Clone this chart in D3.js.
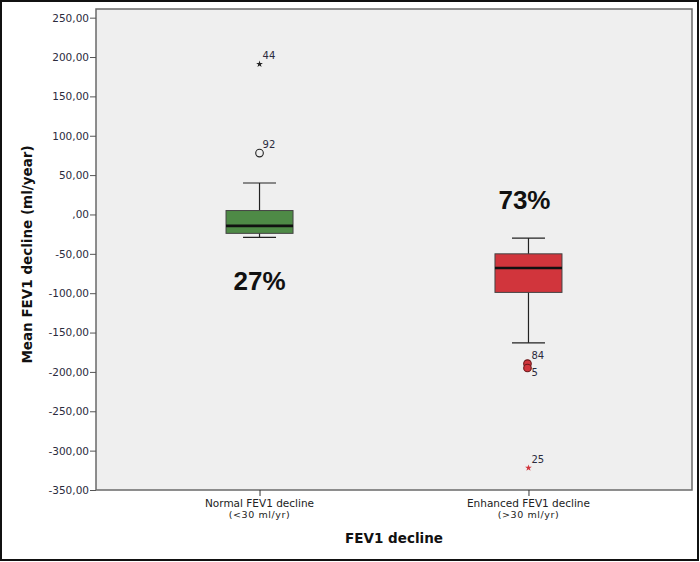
<!DOCTYPE html>
<html>
<head>
<meta charset="utf-8">
<script src="https://cdn.jsdelivr.net/npm/d3@7"></script>
<style>
  body { margin: 0; background: #fff; }
  svg { display: block; }
</style>
</head>
<body>
<script>
// chart data
var categories = ['Normal FEV1 decline', 'Enhanced FEV1 decline'];
var subLabels = ['(<30 ml/yr)', '(>30 ml/yr)'];
var whiskerLow = [-29, -163];
var q1 = [-24, -99];
var median = [-14.5, -68];
var q3 = [5, -50];
var whiskerHigh = [40, -30];
var boxColors = ['#4e8a46', '#d1353c'];
var percentLabels = ['27%', '73%'];

var outlierCat = [0, 0, 1, 1, 1];
var outlierValue = [78, 191, -189.5, -195, -322];
var outlierId = ['92', '44', '84', '5', '25'];
var outlierKind = ['circle', 'star', 'circle', 'circle', 'star'];

var yTicks = [250, 200, 150, 100, 50, 0, -50, -100, -150, -200, -250, -300, -350];

var width = 700, height = 562;
var plot = { left: 96, right: 692, top: 9, bottom: 490 };

var svg = d3.select('body').append('svg')
  .attr('width', width)
  .attr('height', height);

// outer frame
svg.append('rect')
  .attr('x', 1).attr('y', 1)
  .attr('width', width - 3).attr('height', height - 3)
  .attr('fill', '#fff')
  .attr('stroke', '#111')
  .attr('stroke-width', 2);

var y = d3.scaleLinear().domain([-350, 261]).range([plot.bottom, plot.top]);
var x = d3.scalePoint().domain(categories).range([plot.left, plot.right]).padding(0.608);

// plot background
svg.append('rect')
  .attr('x', plot.left).attr('y', plot.top)
  .attr('width', plot.right - plot.left).attr('height', plot.bottom - plot.top)
  .attr('fill', '#efefef')
  .attr('stroke', '#6a6a6a')
  .attr('stroke-width', 1.5);

// y axis
var fmt = function(d) {
  if (d === 0) return ',00';
  return d3.format('d')(d).replace('−', '-') + ',00';
};
var yAxis = svg.append('g')
  .attr('transform', 'translate(' + plot.left + ',0)')
  .call(d3.axisLeft(y).tickValues(yTicks).tickFormat(fmt).tickSize(6).tickPadding(1));
yAxis.select('.domain').remove();
yAxis.selectAll('line').attr('stroke', '#555');
yAxis.selectAll('text')
  .attr('font-family', 'DejaVu Sans, sans-serif')
  .attr('font-size', 10.5)
  .attr('fill', '#2b2b3d');

// x axis
var xAxis = svg.append('g')
  .attr('transform', 'translate(0,' + plot.bottom + ')')
  .call(d3.axisBottom(x).tickSize(6).tickFormat(''));
xAxis.select('.domain').remove();
xAxis.selectAll('line').attr('stroke', '#333');

categories.forEach(function(c, i) {
  svg.append('text')
    .attr('x', x(c)).attr('y', 507)
    .attr('text-anchor', 'middle')
    .attr('font-family', 'DejaVu Sans, sans-serif')
    .attr('font-size', 10.5)
    .attr('fill', '#222')
    .text(c);
  svg.append('text')
    .attr('x', x(c)).attr('y', 518)
    .attr('text-anchor', 'middle')
    .attr('font-family', 'DejaVu Sans, sans-serif')
    .attr('font-size', 9.5)
    .attr('letter-spacing', 0.6)
    .attr('fill', '#222')
    .text(subLabels[i]);
});

// axis titles
svg.append('text')
  .attr('x', (plot.left + plot.right) / 2).attr('y', 543)
  .attr('text-anchor', 'middle')
  .attr('font-family', 'DejaVu Sans, sans-serif')
  .attr('font-weight', 'bold')
  .attr('font-size', 13.5)
  .attr('fill', '#111')
  .text('FEV1 decline');

svg.append('text')
  .attr('transform', 'translate(32,' + ((plot.top + plot.bottom) / 2 + 5) + ') rotate(-90)')
  .attr('text-anchor', 'middle')
  .attr('font-family', 'DejaVu Sans, sans-serif')
  .attr('font-weight', 'bold')
  .attr('font-size', 13.5)
  .attr('fill', '#111')
  .text('Mean FEV1 decline (ml/year)');

// boxes
var boxW = 67, capW = 33;
categories.forEach(function(c, i) {
  var cx = x(c);
  var g = svg.append('g');
  g.append('line')
    .attr('x1', cx).attr('x2', cx)
    .attr('y1', y(whiskerHigh[i])).attr('y2', y(whiskerLow[i]))
    .attr('stroke', '#222').attr('stroke-width', 1.2);
  [whiskerHigh[i], whiskerLow[i]].forEach(function(v) {
    g.append('line')
      .attr('x1', cx - capW / 2).attr('x2', cx + capW / 2)
      .attr('y1', y(v)).attr('y2', y(v))
      .attr('stroke', '#222').attr('stroke-width', 1.2);
  });
  g.append('rect')
    .attr('x', cx - boxW / 2).attr('y', y(q3[i]))
    .attr('width', boxW).attr('height', y(q1[i]) - y(q3[i]))
    .attr('fill', boxColors[i])
    .attr('stroke', '#444').attr('stroke-width', 1);
  g.append('line')
    .attr('x1', cx - boxW / 2).attr('x2', cx + boxW / 2)
    .attr('y1', y(median[i])).attr('y2', y(median[i]))
    .attr('stroke', '#111').attr('stroke-width', 2.6);
});

// outliers
var star = d3.symbol().type(d3.symbolStar).size(14);
outlierValue.forEach(function(v, k) {
  var ci = outlierCat[k];
  var cx = x(categories[ci]);
  var cy = y(v);
  if (outlierKind[k] === 'circle') {
    svg.append('circle')
      .attr('cx', cx - (ci === 1 ? 1 : 0)).attr('cy', cy).attr('r', 3.8)
      .attr('fill', ci === 0 ? 'none' : boxColors[ci])
      .attr('stroke', ci === 0 ? '#222' : '#6b1a1c')
      .attr('stroke-width', 1.1);
  } else {
    svg.append('path')
      .attr('d', star)
      .attr('transform', 'translate(' + cx + ',' + cy + ')')
      .attr('fill', ci === 0 ? '#222' : '#d1353c');
  }
  var below = outlierId[k] === '5';
  svg.append('text')
    .attr('x', cx + 3).attr('y', below ? cy + 8 : cy - 5)
    .attr('font-family', 'DejaVu Sans, sans-serif')
    .attr('font-size', 10)
    .attr('fill', '#2b2b3d')
    .text(outlierId[k]);
});

// percent annotations
var pctValue = [-96, 7];
percentLabels.forEach(function(p, i) {
  svg.append('text')
    .attr('x', x(categories[i]) - (i === 1 ? 4 : 0)).attr('y', y(pctValue[i]))
    .attr('text-anchor', 'middle')
    .attr('font-family', 'Liberation Sans, Arial, sans-serif')
    .attr('font-weight', 'bold')
    .attr('font-size', 26)
    .attr('fill', '#111')
    .text(p);
});
</script>
</body>
</html>
